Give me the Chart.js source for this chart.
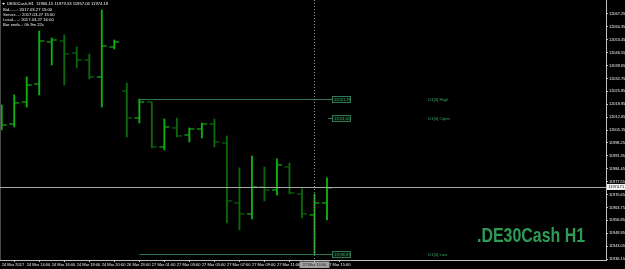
<!DOCTYPE html>
<html><head><meta charset="utf-8">
<script src="https://cdn.jsdelivr.net/npm/chart.js@4/dist/chart.umd.min.js"></script>
<style>html,body{margin:0;padding:0;background:#000;overflow:hidden}#wrap{width:625px;height:269px;position:relative}</style>
</head><body><div id="wrap"><canvas id="c" width="625" height="269"></canvas></div>
<script>
// ---- data ----
const symbol = 'DE30Cash,H1';
const barTimes = ['24 Mar 12:00','24 Mar 13:00','24 Mar 14:00','24 Mar 15:00','24 Mar 16:00','24 Mar 17:00','24 Mar 18:00','24 Mar 19:00','24 Mar 20:00','24 Mar 21:00',
  '26 Mar 23:00','27 Mar 00:00','27 Mar 01:00','27 Mar 02:00','27 Mar 03:00','27 Mar 04:00','27 Mar 05:00','27 Mar 06:00','27 Mar 07:00','27 Mar 08:00',
  '27 Mar 09:00','27 Mar 10:00','27 Mar 11:00','27 Mar 12:00','27 Mar 13:00','27 Mar 14:00','27 Mar 15:00'];
const opens  = [12007.34,12008.41,12020.18,12029.81,12052.27,12052.81,12046.39,12042.64,12033.55,12049.60,12026.06,12011.62,12020.18,11996.11,12006.27,12002.53,12005.74,12008.41,11998.25,11966.15,11960.27,11974.71,11973.11,11985.41,11970.97,11959.73,11966.15];
const highs  = [12018.57,12023.92,12033.55,12058.16,12054.41,12056.02,12049.60,12045.85,12069.39,12053.34,12030.34,12021.78,12020.18,12011.08,12011.62,12006.27,12008.95,12011.08,12001.99,11984.88,11991.30,11985.41,11989.69,11987.55,11973.64,11970.97,11979.53];
const lows   = [12005.20,12006.80,12017.50,12023.92,12039.97,12029.27,12038.36,12032.48,12017.50,12048.53,12001.46,12008.95,11995.58,11994.51,12001.46,11998.78,12000.92,11996.11,11955.46,11951.71,11957.60,11967.22,11970.43,11970.97,11958.13,11938.87,11957.06];
const closes = [12007.88,12019.64,12029.27,12052.81,12053.34,12045.85,12042.64,12033.55,12050.13,12052.27,12011.62,12020.18,11996.11,12006.80,12001.99,12005.74,12008.41,11998.78,11967.22,11960.27,11974.71,11973.11,11986.48,11971.50,11960.27,11966.15,11974.18];
const xTickIdx = [0,2,4,6,8,10,12,14,16,18,20,22,24,26];
const xTickLabels = ['24 Mar 2017','24 Mar 14:00','24 Mar 16:00','24 Mar 18:00','24 Mar 20:00','26 Mar 23:00','27 Mar 01:00','27 Mar 03:00','27 Mar 05:00','27 Mar 07:00','27 Mar 09:00','27 Mar 11:00','27 Mar 13:00','27 Mar 15:00'];
const yTicks = [11936.15,11943.05,11949.95,11956.85,11963.75,11970.65,11977.55,11984.45,11991.35,11998.25,12005.15,12012.05,12018.95,12025.85,12032.75,12039.65,12046.55,12053.45,12060.35,12067.25];
const d1Levels = [{name:'D1[0] High', value:12021.78, from:11},{name:'D1[0] Open', value:12011.62, from:26.1},{name:'D1[0] Low', value:11938.87, from:11}];
const crossIdx = 25;
const crossPrice = 11974.71;
const infoLines = ['Bid.......: 2017.03.27 15:00','Server....: 2017.03.27 15:00','Local.....: 2017.03.27 16:00','Bar ends..: 0h 9m 22s'];
const watermark = '.DE30Cash H1';

// ---- style ----
const UP = '#10b010', DOWN = '#0b680b', LVL = '#337555', LVLTXT = '#35a860', AX = '#c0c0c0', TXT = '#f2f2f2';
const F = 'Liberation Sans, Arial, sans-serif';

const dirColor = i => closes[i] >= opens[i] ? UP : DOWN;

const overlay = {
  id:'overlay',
  beforeDraw(chart){
    const c = chart.ctx; c.save(); c.fillStyle='#000'; c.fillRect(0,0,chart.width,chart.height); c.restore();
  },
  afterDatasetsDraw(chart){
    const c = chart.ctx, xs = chart.scales.x, ys = chart.scales.y, a = chart.chartArea;
    c.save();
    c.strokeStyle='#4a4a4a'; c.lineWidth=1; c.beginPath(); c.moveTo(0.5,0); c.lineTo(0.5,a.bottom); c.stroke();
    d1Levels.forEach(l=>{
      const y = Math.round(ys.getPixelForValue(l.value))+0.5;
      const x0 = xs.getPixelForValue(l.from);
      c.strokeStyle=LVL; c.lineWidth=1;
      c.beginPath(); c.moveTo(x0,y); c.lineTo(332,y); c.stroke();
      c.fillStyle='#06140c'; c.fillRect(332.5,y-3,18,6);
      c.strokeRect(332.5,y-3,18,6);
      c.fillStyle=LVLTXT; c.font='4px '+F; c.textBaseline='middle'; c.textAlign='left';
      c.fillText(l.value.toFixed(2),334,y+0.3);
      c.font='4.3px '+F; c.fillText(l.name,428,y+0.3);
    });
    const cy = Math.round(ys.getPixelForValue(crossPrice))+0.5;
    c.strokeStyle='#a8a8a8'; c.beginPath(); c.moveTo(0,cy); c.lineTo(a.right,cy); c.stroke();
    const cx = Math.round(xs.getPixelForValue(crossIdx))+0.5;
    c.setLineDash([1,2]); c.strokeStyle='#8a8a8a'; c.beginPath(); c.moveTo(cx,0); c.lineTo(cx,a.bottom); c.stroke(); c.setLineDash([]);
    c.fillStyle='#2e9b55'; c.font='bold 21px '+F; c.textAlign='left'; c.textBaseline='alphabetic';
    const w = c.measureText(watermark).width;
    c.save(); c.translate(477,242); c.scale(108/w,1); c.fillText(watermark,0,0); c.restore();
    c.fillStyle=TXT; c.font='4.2px '+F; c.textBaseline='middle';
    c.beginPath(); c.moveTo(2,3); c.lineTo(5,3); c.lineTo(3.5,5); c.closePath(); c.fill();
    c.fillText(symbol+'  '+opens[26].toFixed(2)+' '+highs[26].toFixed(2)+' '+lows[26].toFixed(2)+' '+closes[26].toFixed(2),7,4);
    infoLines.forEach((t,i)=>c.fillText(t,3,10+i*4.8));
    c.restore();
  },
  afterDraw(chart){
    const c = chart.ctx, xs = chart.scales.x, ys = chart.scales.y, a = chart.chartArea;
    c.save();
    const cy = ys.getPixelForValue(crossPrice);
    c.fillStyle='#f4f4f4'; c.fillRect(a.right+1,cy-3,18,6);
    c.fillStyle='#000'; c.font='3.8px '+F; c.textBaseline='middle'; c.textAlign='left';
    c.fillText(crossPrice.toFixed(2),a.right+2.5,cy+0.3);
    const cx = xs.getPixelForValue(crossIdx);
    c.fillStyle='#a0a0a0'; c.fillRect(cx-15,a.bottom+1.5,30,6.5);
    c.fillStyle='#202020'; c.textAlign='center'; c.font='4px '+F;
    c.fillText(barTimes[crossIdx],cx,a.bottom+4.8);
    c.restore();
  }
};

const rangeData = barTimes.map((t,i)=>({x:i, y:[lows[i], highs[i]]}));
const openData = barTimes.map((t,i)=>({x:i-0.2, y:opens[i]}));
const closeData = barTimes.map((t,i)=>({x:i+0.2, y:closes[i]}));

new Chart(document.getElementById('c'), {
  type:'bar',
  data:{ datasets:[
    {type:'bar', data:rangeData, barThickness:1.2, backgroundColor:ctx=>dirColor(ctx.dataIndex), borderWidth:0, grouped:false},
    {type:'scatter', data:openData, pointStyle:'line', radius:2.5, borderWidth:1.2, borderColor:ctx=>dirColor(ctx.dataIndex), backgroundColor:ctx=>dirColor(ctx.dataIndex)},
    {type:'scatter', data:closeData, pointStyle:'line', radius:2.5, borderWidth:1.2, borderColor:ctx=>dirColor(ctx.dataIndex), backgroundColor:ctx=>dirColor(ctx.dataIndex)}
  ]},
  options:{
    responsive:false, animation:false, devicePixelRatio:1,
    layout:{padding:0, autoPadding:false},
    plugins:{legend:{display:false}, tooltip:{enabled:false}},
    scales:{
      x:{type:'linear', min:-0.136, max:48.3, offset:false,
        grid:{display:true, drawOnChartArea:false, drawTicks:true, tickLength:2, color:AX},
        border:{color:AX},
        afterBuildTicks:s=>{ s.ticks = xTickIdx.map(v=>({value:v})); },
        afterFit:s=>{ s.height=9; s.paddingLeft=0; s.paddingRight=0; },
        ticks:{autoSkip:false, maxRotation:0, minRotation:0, align:'start', padding:0, color:TXT, font:{size:4, family:F},
          callback:(v,i)=>xTickLabels[i]}
      },
      y:{type:'linear', position:'right', min:11935.62, max:12074.74,
        grid:{display:true, drawOnChartArea:false, drawTicks:true, tickLength:2, color:AX},
        border:{color:AX},
        afterBuildTicks:s=>{ s.ticks = yTicks.map(v=>({value:v})); },
        afterFit:s=>{ s.width=19; s.paddingTop=0; s.paddingBottom=0; },
        ticks:{autoSkip:false, padding:1, color:TXT, font:{size:3.9, family:F}, callback:v=>Number(v).toFixed(2)}
      }
    }
  },
  plugins:[overlay]
});
</script></body></html>
